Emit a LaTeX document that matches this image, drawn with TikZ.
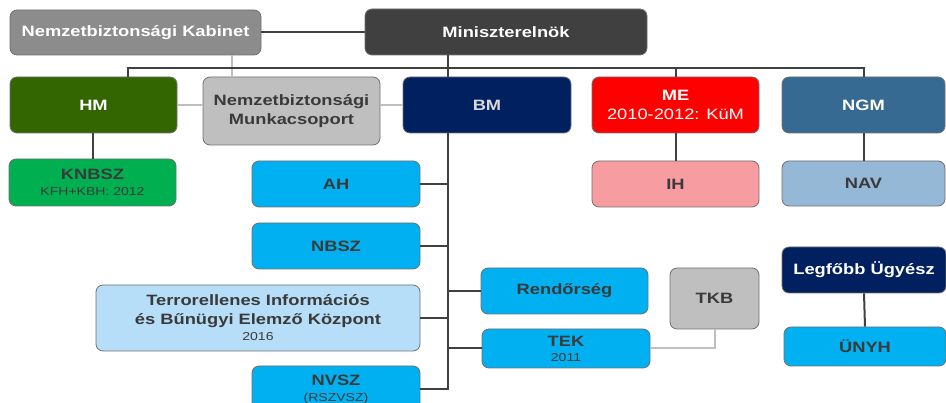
\documentclass[tikz,border=0pt]{standalone}
\usepackage{fontspec}
\setmainfont[FakeStretch=1.22]{Liberation Sans}
\usepackage{tikz}

\definecolor{kabgray}{HTML}{8C8C8C}
\definecolor{pmgray}{HTML}{404040}
\definecolor{hmgreen}{HTML}{336600}
\definecolor{boxgray}{HTML}{BFBFBF}
\definecolor{bmnavy}{HTML}{002060}
\definecolor{mered}{HTML}{FF0000}
\definecolor{ngmblue}{HTML}{376A92}
\definecolor{knbszgreen}{HTML}{00B050}
\definecolor{cyanbox}{HTML}{00B0F0}
\definecolor{tibekblue}{HTML}{B7DEF8}
\definecolor{ihpink}{HTML}{F79CA0}
\definecolor{navblue}{HTML}{95B8D6}
\definecolor{edgegray}{HTML}{707070}
\definecolor{textgray}{HTML}{3A3A3A}

\newcommand\subline[1]{{\fontsize{11.5}{13}\selectfont\mdseries #1}}

\begin{document}
\begin{tikzpicture}[x=1pt,y=-1pt,
    box/.style={draw=edgegray,line width=0.8pt,rounded corners=7pt,align=center,
        inner sep=2pt,text=textgray,font=\fontsize{15}{19}\selectfont\bfseries},
    link/.style={draw=pmgray,line width=2pt},
    soft link/.style={draw=boxgray,line width=2pt}]
    \useasboundingbox (0,0) rectangle (946,403);
    % top row
    \node [box,fill=kabgray,text=white,minimum width=251,minimum height=45] (kab) at (135.5,32.5) {Nemzetbiztonsági Kabinet};
    \node [box,fill=pmgray,text=white,minimum width=282,minimum height=46] (min) at (506,32) {Miniszterelnök};
    % ministries
    \node [box,fill=hmgreen,text=white,minimum width=167,minimum height=56] (hm) at (93.5,105) {HM};
    \node [box,fill=boxgray,minimum width=177,minimum height=68] (nbm) at (291.5,111) {Nemzetbiztonsági\\Munkacsoport};
    \node [box,fill=bmnavy,text=black!15,minimum width=168,minimum height=56] (bm) at (487,105) {BM};
    \node [box,fill=mered,text=white,minimum width=167,minimum height=56] (me) at (675.5,105) {ME\\\mdseries 2010-2012: KüM};
    \node [box,fill=ngmblue,text=white,minimum width=163,minimum height=56] (ngm) at (863.5,105) {NGM};
    % services
    \node [box,fill=knbszgreen,minimum width=167,minimum height=47] (knbsz) at (92.5,182.5) {KNBSZ\\[-3pt]\subline{KFH+KBH: 2012}};
    \node [box,fill=cyanbox,minimum width=168,minimum height=46] (ah) at (336,184) {AH};
    \node [box,fill=cyanbox,minimum width=168,minimum height=46] (nbsz) at (336,246) {NBSZ};
    \node [box,fill=tibekblue,minimum width=324,minimum height=66] (tibek) at (258,318) {Terrorellenes Információs\\és Bűnügyi Elemző Központ\\[-3pt]\subline{2016}};
    \node [box,fill=cyanbox,minimum width=168,minimum height=46] (nvsz) at (336,389) {NVSZ\\[-3pt]\subline{(RSZVSZ)}};
    \node [box,fill=cyanbox,minimum width=167,minimum height=46] (rend) at (564.5,291) {Rendőrség};
    \node [box,fill=cyanbox,minimum width=168,minimum height=39] (tek) at (566,348.5) {TEK\\[-4pt]\subline{2011}};
    \node [box,fill=boxgray,minimum width=89,minimum height=61] (tkb) at (714.5,298.5) {TKB};
    \node [box,fill=ihpink,minimum width=167,minimum height=46] (ih) at (675.5,184) {IH};
    \node [box,fill=navblue,minimum width=163,minimum height=45] (nav) at (863.5,183.5) {NAV};
    \node [box,fill=bmnavy,text=white,minimum width=164,minimum height=46] (lu) at (864,270) {Legfőbb Ügyész};
    \node [box,fill=cyanbox,minimum width=162,minimum height=39] (unyh) at (865,346.5) {ÜNYH};
    % connectors
    \coordinate (kt) at (232,0);
    \coordinate (bus) at (448,68);
    \coordinate (hmtap) at (128,68);
    \draw [soft link] (kab.south -| kt) -- (nbm.north -| kt);
    \draw [soft link] (hm.east) -- (hm.east -| nbm.west);
    \draw [soft link] (nbm.east |- bm.west) -- (bm.west);
    \draw [soft link] (tkb.south) |- (tek.east);
    \draw [link] (kab.east) -- (kab.east -| min.west);
    \draw [link] (min.south -| bus) -- (bus);
    \draw [link] (hmtap |- hm.north) -- (hmtap) -- (hmtap -| ngm.north) -- (ngm.north);
    \draw [link] (bus) -- (bus |- bm.north);
    \draw [link] (me.north |- bus) -- (me.north);
    \draw [link] (hm.south -| knbsz.north) -- (knbsz.north);
    \draw [link] (bm.south -| bus) -- (bus |- nvsz.east) -- (nvsz.east);
    \foreach \n in {ah,nbsz,tibek}
        \draw [link] (\n.east) -- (\n.east -| bus);
    \foreach \n in {rend,tek}
        \draw [link] (\n.west) -- (\n.west -| bus);
    \draw [link] (me.south) -- (ih.north);
    \draw [link] (ngm.south) -- (nav.north);
    \draw [link] (lu.south) -- (unyh.north);
\end{tikzpicture}
\end{document}
